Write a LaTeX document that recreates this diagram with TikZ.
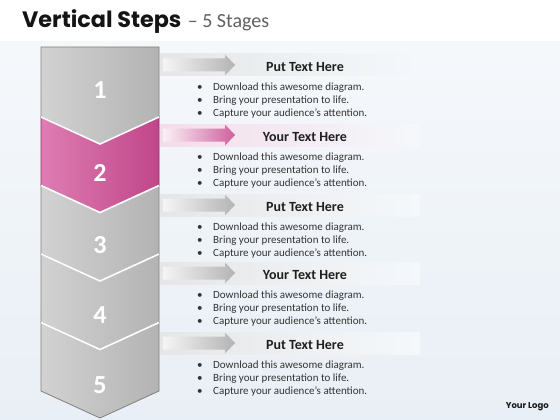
\documentclass[tikz,border=0pt]{standalone}
\usepackage{fontspec}
\setmainfont{Carlito}
\newfontfamily\titlefont{Poppins}
\definecolor{bgA}{HTML}{F5F8FB}
\definecolor{bgB}{HTML}{E9EFF6}
\definecolor{grayL}{HTML}{D2D2D2}
\definecolor{grayR}{HTML}{B3B3B3}
\definecolor{grayE}{HTML}{808080}
\definecolor{pinkL}{HTML}{DE7DB3}
\definecolor{pinkR}{HTML}{C0468A}
\definecolor{pinkE}{HTML}{8E2D63}
\definecolor{bandG}{HTML}{E6E6E6}
\definecolor{bandP}{HTML}{F3DDE9}
\definecolor{arrG}{HTML}{B4B4B4}
\definecolor{arrP}{HTML}{D0609E}
\definecolor{txt}{HTML}{333333}
\tikzset{
  stagebox/.style={draw=grayE, line width=0.8pt, left color=grayL, right color=grayR},
  pinkbox/.style={draw=pinkE, line width=0.8pt, left color=pinkL, right color=pinkR},
  numtxt/.style={text=white, font=\bfseries\fontsize{26}{28}\selectfont, inner sep=0pt},
  sepline/.style={white, line width=1.6pt},
  headtxt/.style={font=\bfseries\fontsize{14}{16}\selectfont, text=black!88, inner sep=0pt},
  bultxt/.style={font=\fontsize{11}{13}\selectfont, text=txt, inner sep=0pt, anchor=west},
}
\begin{document}
\begin{tikzpicture}[x=1pt,y=-1pt]
\useasboundingbox (0,0) rectangle (560,420);
\fill[white] (0,0) rectangle (560,42);
\shade[top color=bgA, bottom color=bgB] (0,42) rectangle (560,420);
% title
\node[anchor=base west, inner sep=0pt, font=\titlefont\bfseries\fontsize{22.3}{26}\selectfont, text=black!92] (title) at (22,28) {Vertical Steps};
\node[anchor=base west, inner sep=0pt, font=\fontsize{20}{24}\selectfont, text=black!62] (subtitle) at ([xshift=6pt]title.base east) {– 5 Stages};
% bands and arrows
\foreach \a/\bc/\ac in {65/bandG/arrG, 135/bandP/arrP, 205/bandG/arrG, 273/bandG/arrG, 343/bandG/arrG}{
  \shade[left color=\bc, right color=bgA] (160,\a-11) rectangle (420,\a+11);
  \shade[left color=\bc!40!white, right color=\ac] (163,\a-6.5) -- (225,\a-6.5) -- (225,\a-10.5) -- (235,\a) -- (225,\a+10.5) -- (225,\a+6.5) -- (163,\a+6.5) -- cycle;
}
% stages
\foreach \i/\t/\td/\b/\ny/\sty in {1/47/0/117/90/stagebox, 2/117/27/185.5/173/pinkbox, 3/185.5/27/254/245/stagebox, 4/254/27/322.5/315/stagebox, 5/322.5/27/391/385/stagebox}{
  \path[\sty] (41,\t) -- (100,\t+\td) -- (159,\t) -- (159,\b) -- (100,\b+27) -- (41,\b) -- cycle;
  \node[numtxt] (n\i) at (100,\ny) {\i};
}
\foreach \s in {117,185.5,254,322.5}{
  \draw[sepline] (41,\s) -- (100,\s+27) -- (159,\s);
}
% texts
\foreach \i/\h/\ttl in {1/67/Put Text Here, 2/137/Your Text Here, 3/207/Put Text Here, 4/275/Your Text Here, 5/345/Put Text Here}{
  \node[headtxt] (h\i) at (305,\h) {\ttl};
  \node[bultxt] (d\i a) at (197,\h+21) {•};
  \node[bultxt] (t\i a) at (213,\h+21) {Download this awesome diagram.};
  \node[bultxt] (d\i b) at (197,\h+34) {•};
  \node[bultxt] (t\i b) at (213,\h+34) {Bring your presentation to life.};
  \node[bultxt] (d\i c) at (197,\h+47) {•};
  \node[bultxt] (t\i c) at (213,\h+47) {Capture your audience’s attention.};
}
\node[anchor=base east, inner sep=0pt, font=\titlefont\bfseries\fontsize{8.5}{10}\selectfont, text=black!90] (logo) at (549,408) {Your Logo};
\end{tikzpicture}
\end{document}
